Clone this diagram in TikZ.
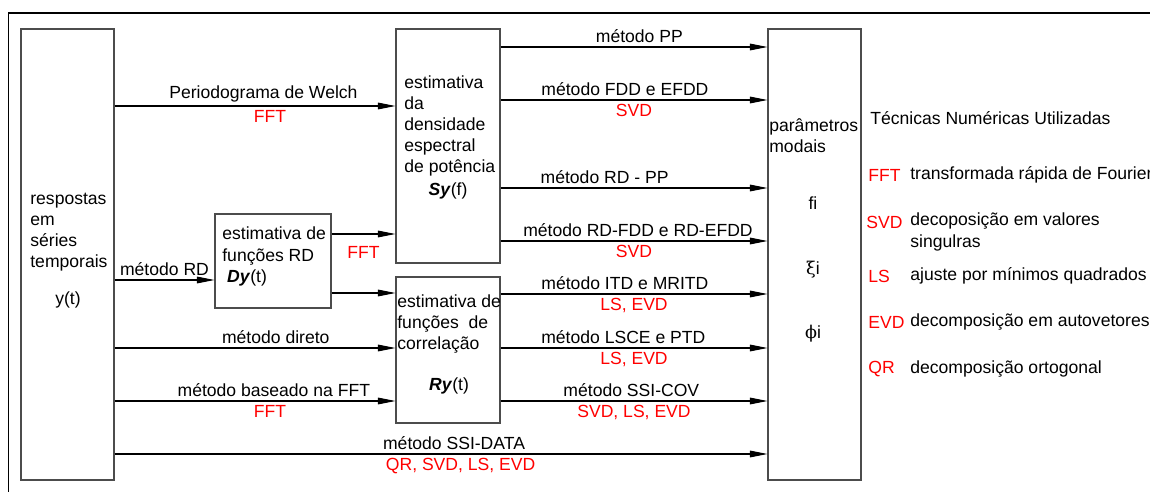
\documentclass[tikz,border=0pt]{standalone}
\usepackage{fontspec}
\setmainfont{Liberation Sans}
\newfontfamily\grego{DejaVu Serif}
\usetikzlibrary{arrows.meta,positioning,fit}
\tikzstyle{bloco} = [draw=black!70,line width=0.6pt,inner sep=0pt]
\tikzstyle{seta} = [line width=0.6pt,-{Triangle[length=10pt,width=3.8pt]}]
\tikzstyle{txt} = [inner sep=0pt,align=left]
\tikzstyle{rot} = [inner sep=2pt]
\tikzstyle{tec} = [red,inner sep=2pt]
\begin{document}
\begin{tikzpicture}[x=0.02cm,y=-0.02cm,font=\fontsize{10}{12}\selectfont]
        \useasboundingbox (0,0) rectangle (1150,492);
        \draw[line width=1pt] (1150,13) -- (8.5,13) -- (8.5,492);

        \node[bloco,fit={(21,29) (114,480)}] (resp) {};
        \node[bloco,fit={(215,214) (331,308)}] (dy) {};
        \node[bloco,fit={(396,29) (500,263)}] (sy) {};
        \node[bloco,fit={(396,277) (500,423)}] (ry) {};
        \node[bloco,fit={(768,29) (861,480)}] (modal) {};

        \node[txt,anchor=west] (resptxt) at (30,232) {respostas\\em\\séries\\temporais};
        \node (yt) at (68,300) {y(t)};
        \node[txt,anchor=west] (dytxt) at (222,246) {estimativa de\\funções RD};
        \node (dyf) at (247,278) {\textbf{\textit{Dy}}(t)};
        \node[txt,anchor=west] (sytxt) at (404,126) {estimativa\\da\\densidade\\espectral\\de potência};
        \node (syf) at (448,191) {\textbf{\textit{Sy}}(f)};
        \node[txt,anchor=west] (rytxt) at (397,324) {estimativa de\\funções\ \ de\\correlação};
        \node (ryf) at (449,386) {\textbf{\textit{Ry}}(t)};
        \node[txt,anchor=west] (modtxt) at (769,136) {parâmetros\\modais};
        \node (fi) at (813,203) {fi};
        \node (xii) at (813,270) {{\grego ξ}i};
        \node (phii) at (813,334) {{\grego ϕ}i};

        \draw[seta] (resp.east |- 0,106) -- node[rot,above,pos=0.53] {Periodograma de Welch} node[tec,below,pos=0.553] {FFT} (sy.west |- 0,106);
        \draw[seta] (resp.east |- 0,280) -- node[rot,above] {método RD} (dy.west |- 0,280);
        \draw[seta] (dy.east |- 0,234) -- node[tec,below=5pt] {FFT} (sy.west |- 0,234);
        \draw[seta] (dy.east |- 0,293) -- (ry.west |- 0,293);
        \draw[seta] (resp.east |- 0,348) -- node[rot,above,pos=0.574] {método direto} (ry.west |- 0,348);
        \draw[seta] (resp.east |- 0,401) -- node[rot,above,pos=0.567] {método baseado na FFT} node[tec,below,pos=0.553] {FFT} (ry.west |- 0,401);
        \draw[seta] (resp.east |- 0,454) -- node[rot,above,pos=0.52] {método SSI-DATA} node[tec,below,pos=0.53] {QR, SVD, LS, EVD} (modal.west |- 0,454);

        \draw[seta] (sy.east |- 0,47) -- node[rot,above,pos=0.52] {método PP} (modal.west |- 0,47);
        \draw[seta] (sy.east |- 0,100) -- node[rot,above,pos=0.466] {método FDD e EFDD} node[tec,below,pos=0.5] {SVD} (modal.west |- 0,100);
        \draw[seta] (sy.east |- 0,188) -- node[rot,above,pos=0.39] {método RD - PP} (modal.west |- 0,188);
        \draw[seta] (sy.east |- 0,241) -- node[rot,above,pos=0.515] {método RD-FDD e RD-EFDD} node[tec,below,pos=0.5] {SVD} (modal.west |- 0,241);
        \draw[seta] (ry.east |- 0,294) -- node[rot,above,pos=0.466] {método ITD e MRITD} node[tec,below,pos=0.5] {LS, EVD} (modal.west |- 0,294);
        \draw[seta] (ry.east |- 0,348) -- node[rot,above,pos=0.46] {método LSCE e PTD} node[tec,below,pos=0.5] {LS, EVD} (modal.west |- 0,348);
        \draw[seta] (ry.east |- 0,401) -- node[rot,above,pos=0.49] {método SSI-COV} node[tec,below,pos=0.5] {SVD, LS, EVD} (modal.west |- 0,401);

        \node[txt,anchor=west] (titulo) at (870,118) {Técnicas Numéricas Utilizadas};
        \node[txt,anchor=west,red] (fft) at (868,175) {FFT};
        \node[txt,anchor=west,red] (svd) at (866,222) {SVD};
        \node[txt,anchor=west,red] (ls) at (868,276) {LS};
        \node[txt,anchor=west,red] (evd) at (868,322) {EVD};
        \node[txt,anchor=west,red] (qr) at (868,369) {QR};
        \node[txt,anchor=west] (fftd) at (910,175) {transformada rápida de Fourier};
        \node[txt,anchor=west] (svdd) at (910,232) {decoposição em valores\\singulras};
        \node[txt,anchor=west] (lsd) at (910,276) {ajuste por mínimos quadrados};
        \node[txt,anchor=west] (evdd) at (910,322) {decomposição em autovetores};
        \node[txt,anchor=west] (qrd) at (910,369) {decomposição ortogonal};
\end{tikzpicture}
\end{document}
